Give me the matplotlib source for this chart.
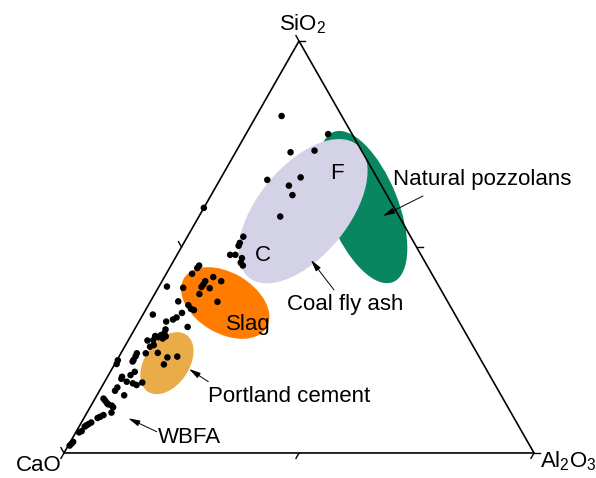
import numpy as np
import matplotlib
matplotlib.use("Agg")
import matplotlib.pyplot as plt
from matplotlib.patches import Ellipse, Polygon

plt.rcParams['font.family'] = ['Liberation Sans', 'DejaVu Sans']
plt.rcParams['mathtext.fontset'] = 'custom'
plt.rcParams['mathtext.rm'] = 'Liberation Sans'
plt.rcParams['mathtext.default'] = 'regular'

# Oxide compositions of the samples (wt %), CaO = 100 - SiO2 - Al2O3
sio2 = [81.8, 77.4, 73.0, 73.4, 66.3, 66.9, 64.9, 62.6, 57.4, 59.5,
        52.5, 51.0, 50.3, 48.1, 48.1, 47.3, 46.2, 45.5,
        45.5, 44.9, 43.5, 40.4, 40.1, 42.7, 41.7, 41.7, 40.9, 40.3, 40.0, 38.6, 36.7,
        36.8, 35.9, 35.0, 34.7, 34.0, 32.9, 32.4, 33.6, 31.9, 30.6, 30.0,
        28.6, 29.1, 28.3, 27.8, 28.1, 28.4, 27.4, 27.3, 25.8, 26.2,
        24.2, 23.5, 22.6, 22.2, 24.2, 24.3, 23.2, 23.4, 21.5, 22.5, 21.6,
        19.7, 18.9, 18.5, 18.0, 17.3, 16.9, 16.5, 17.1, 15.9, 15.1, 14.0,
        13.2, 12.7, 12.1, 11.8, 11.5, 11.1, 9.8, 9.2, 8.8, 8.5,
        7.4, 7.0, 6.7, 6.4, 5.3, 5.0, 2.7, 2.3, 1.8]
al2o3 = [5.4, 17.5, 11.7, 16.6, 10.1, 16.9, 15.4, 17.3, 17.3, 0.0,
         11.9, 11.9, 12.0, 11.3, 12.4, 14.2, 14.5, 15.3,
         6.0, 5.9, 5.5, 1.7, 5.3, 10.4, 12.6, 9.2, 9.2, 9.1, 11.0, 9.5, 14.3,
         5.9, 8.5, 9.5, 10.3, 8.1, 7.5, 7.0, 2.1, 5.8, 11.0, 6.6,
         6.3, 6.8, 7.5, 7.1, 6.0, 5.2, 5.3, 4.1, 5.4, 6.0,
         3.4, 3.5, 3.5, 3.5, 5.3, 7.8, 10.4, 12.4, 10.5, 0.2, 0.4,
         5.2, 4.7, 3.1, 3.2, 4.7, 6.2, 7.2, 8.1, 3.4, 3.3, 5.8,
         1.8, 2.4, 3.1, 3.5, 4.4, 4.9, 5.2, 3.8, 3.3, 2.9,
         2.1, 1.7, 1.4, 1.2, 1.1, 0.7, 0.6, 0.5, 0.3]

# Composition fields of the material groups: (name, SiO2, Al2O3, colour)
fields = [
    ("Natural pozzolans", 59.7, 33.8, "#08865F"),
    ("Coal fly ash", 58.7, 21.5, "#D4D2E6"),
    ("Slag", 36.4, 16.1, "#FF7C00"),
    ("Portland cement", 21.8, 11.0, "#E9AC48"),
]
field_shape = {  # full width, full height (triangle side = 1), rotation in degrees
    "Natural pozzolans": (0.340, 0.149, 112),
    "Coal fly ash": (0.362, 0.191, 50),
    "Slag": (0.204, 0.128, -30),
    "Portland cement": (0.145, 0.094, 55),
}

H = np.sqrt(3) / 2


def to_xy(si, al):
    si = np.asarray(si) / 100.0
    al = np.asarray(al) / 100.0
    return al + si / 2, si * H


fig = plt.figure(figsize=(5.96, 4.78), dpi=100)
ax = fig.add_axes([0, 0, 1, 1])
ax.set_xlim(-0.1362, 1.1319)
ax.set_ylim(-0.0526, 0.9523)
ax.axis('off')

# Triangle frame
tri = Polygon([[0, 0], [1, 0], [0.5, H]], closed=True, fill=False,
              edgecolor='black', lw=1.2, joinstyle='miter', zorder=5)
ax.add_patch(tri)

# Ticks at 0, 50 and 100 % on each side
tl = 0.013
d_bottom = np.array([-0.5, -H]) * tl
d_right = np.array([1.0, 0.0]) * tl
d_left = np.array([-0.5, H]) * tl
for f in (0.0, 0.5, 1.0):
    p = np.array([f, 0.0])
    ax.plot([p[0], p[0] + d_bottom[0]], [p[1], p[1] + d_bottom[1]], color='k', lw=1.0)
    p = np.array([1 - 0.5 * f, H * f])
    ax.plot([p[0], p[0] + d_right[0]], [p[1], p[1] + d_right[1]], color='k', lw=1.0)
    p = np.array([0.5 * f, H * f])
    ax.plot([p[0], p[0] + d_left[0]], [p[1], p[1] + d_left[1]], color='k', lw=1.0)

# Material fields
for i, (name, si, al, col) in enumerate(fields):
    w, h, ang = field_shape[name]
    cx, cy = to_xy(si, al)
    ax.add_patch(Ellipse((cx, cy), w, h, angle=ang, facecolor=col,
                         edgecolor='none', zorder=1 + i * 0.1))

# Sample points
x, y = to_xy(sio2, al2o3)
ax.scatter(x, y, s=22, color='black', edgecolors='none', zorder=6)

fs = 16
ax.text(0.507, 0.889, 'SiO$_2$', ha='center', va='baseline', fontsize=fs)
ax.text(-0.006, -0.038, 'CaO', ha='right', va='baseline', fontsize=fs)
ax.text(1.013, -0.031, 'Al$_2$O$_3$', ha='left', va='baseline', fontsize=fs)

ax.text(0.581, 0.587, 'F', ha='center', va='center', fontsize=fs, zorder=7)
ax.text(0.423, 0.416, 'C', ha='center', va='center', fontsize=fs, zorder=7)
ax.text(0.3915, 0.2586, 'Slag', ha='center', va='baseline', fontsize=fs, zorder=7)

arrow = dict(arrowstyle='-|>,head_length=0.7,head_width=0.18', lw=0.7,
             color='black', shrinkA=0, shrinkB=0)
labels = [
    ('Natural pozzolans', (0.700, 0.5634), (0.7638, 0.5403), (0.6787, 0.4982)),
    ('Coal fly ash', (0.4738, 0.3006), (0.5745, 0.3427), (0.5255, 0.4057)),
    ('Portland cement', (0.3070, 0.1078), (0.3070, 0.1499), (0.2660, 0.1766)),
    ('WBFA', (0.2006, 0.0217), (0.1972, 0.0448), (0.1368, 0.0729)),
]
for txt, tpos, tail, head in labels:
    ax.text(tpos[0], tpos[1], txt, ha='left', va='baseline', fontsize=fs, zorder=7)
    ax.annotate('', xy=head, xytext=tail, arrowprops=arrow, zorder=7)

fig.savefig('out.png', dpi=100)
